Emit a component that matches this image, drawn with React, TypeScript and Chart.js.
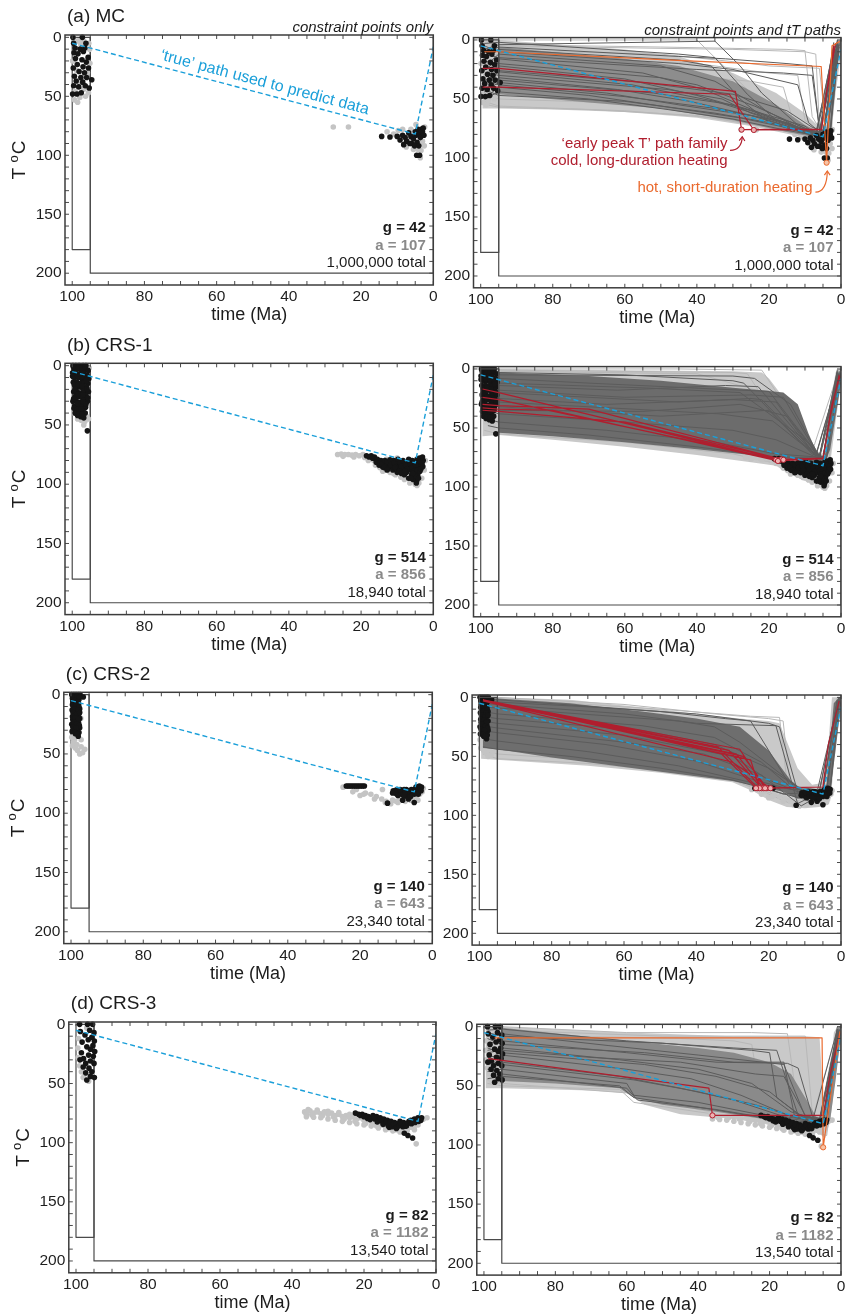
import React, { useEffect, useRef } from 'react';
import { Chart, registerables } from 'chart.js';

Chart.register(...registerables);

type Pt = [number, number];

const FONT = "'Liberation Sans', Helvetica, Arial, sans-serif";

// ---------- axes ----------
const X_TICKS = [100, 80, 60, 40, 20, 0];
const Y_TICKS = [0, 50, 100, 150, 200];
const X_MIN = 0, X_MAX = 102, Y_MIN = -2, Y_MAX = 210;
const X_MINOR = 5, Y_MINOR = 10;

// ---------- panel texts ----------
const PANEL_NAMES = ['(a) MC', '(b) CRS-1', '(c) CRS-2', '(d) CRS-3'];
const GOOD_COUNTS = [42, 514, 140, 82];
const ACC_COUNTS = [107, 856, 643, 1182];
const TOTALS = ['1,000,000', '18,940', '23,340', '13,540'];
const SUBTITLES = ['constraint points only', 'constraint points and tT paths'];

// ---------- constraints & true path ----------
const BOX_EARLY: Pt[] = [[100, 0], [100, 180], [95, 180], [95, 0], [100, 0]];
const BOX_LATE: Pt[] = [[95, 0], [95, 200], [0, 200], [0, 0]];
const TRUE_PATH: Pt[] = [[100, 5], [5, 82], [0, 8]];
const TRUE_LABEL_AT: Pt = [47.5, 47.5];

// ---------- (a) MC ----------
const A_GOOD_DOTS: Pt[] = [[99.8,0],[97.2,0],[99.6,5],[96.2,5],[99.2,9],[97.8,10],[96.5,9],[99.5,13],[98.4,14],[96.9,12],[95.6,17],[99.1,18],[97.3,19],[96.1,21],[98.6,23],[99.7,26],[97.0,25],[95.5,26],[98.1,29],[96.6,30],[99.4,33],[97.6,34],[96.0,34],[94.6,36],[98.9,37],[97.1,38],[99.6,41],[98.2,42],[96.4,41],[95.3,43],[97.5,47],[98.7,48],[99.9,48],
  [14.3,84],[12.0,84.5],[10.0,84],[9.2,87],[8.5,83],[7.8,85],[7.4,88],[6.8,81],[6.2,84],[5.9,90],[5.5,86],[5.0,80],[4.8,83],[4.5,89],[4.2,78],[3.9,82],[3.6,85],[3.3,78],[3.0,80],[2.8,77],[5.2,92],[4.0,92],[4.6,100],[3.8,100],[6.5,90],[8.2,91],[2.6,83]];
const A_ACC_DOTS: Pt[] = [[99.5,2],[98.3,3],[96.8,3],[95.4,5],[99.9,20],[98.8,28],[95.8,30],[99.2,46],[97.9,51],[96.3,50],[95.5,47],[98.5,55],[99.4,53],[96.8,44],[95.2,10],[97.6,6],[95.1,22],[98.0,38],
  [27.7,76],[23.5,76],[12.8,80],[11,82],[9.7,79],[8.5,78],[6.2,78],[5.5,95],[4.2,95],[3,88],[2.5,92],[3.6,102],[7.5,93],[4.8,74],[2.4,76],[6.8,88],[3.4,96]];
const A_ACC_BAND: Pt[] = [[99.5,2],[95,0],[60,8],[45,14],[30,28],[18,45],[10,62],[6,74],[4,72],[3,30],[2,5],[0.8,0],[0,0],[0,12],[1.5,45],[3,85],[5,92],[8,85],[14,80],[25,73],[40,66],[60,61],[80,59],[95,58],[99.5,58]];
const A_GOOD_BAND: Pt[] = [[95,6],[60,16],[45,22],[30,35],[18,55],[10,72],[6,78],[4,76],[2.5,40],[1,5],[0.4,4],[1.5,40],[3,78],[5,82],[8,82],[15,78],[30,68],[50,58],[70,53],[95,46]];
const A_GOOD_PATHS: Pt[][] = [
  [[99,8],[95,4],[35,1],[28,22],[22,45],[12,72],[6,80],[1,4]],
  [[99,14],[95,8],[45,17],[36,22],[28,50],[20,70],[8,78],[5,80],[1,6]],
  [[98,20],[95,12],[50,22],[35,35],[22,58],[12,74],[6,80],[2,10]],
  [[99,26],[95,16],[55,28],[38,42],[20,65],[9,77],[5,81],[1,2]],
  [[98,30],[95,22],[60,33],[40,47],[25,60],[10,76],[4,80],[0.5,6]],
  [[99,35],[95,27],[58,38],[35,52],[18,68],[8,79],[3,80],[1,3]],
  [[98,40],[95,32],[62,42],[42,52],[22,66],[10,78],[5,80],[1.5,8]],
  [[99,44],[95,36],[65,45],[45,55],[25,64],[12,76],[6,82],[1,5]],
  [[98,47],[95,40],[70,47],[50,56],[28,66],[14,75],[5,83],[0.5,2]],
  [[99,50],[95,44],[70,50],[48,59],[30,67],[16,76],[7,81],[1,4]],
  [[99,18],[95,20],[50,32],[40,38],[24,56],[10,75],[5,79],[1,1]],
  [[98,10],[95,6],[45,14],[32,16],[15,20],[8,22],[6,76],[3,80],[0.5,3]],
  [[99,22],[95,26],[55,36],[30,46],[15,60],[8,74],[4,78],[0.5,9]],
  [[98,36],[95,38],[60,48],[35,58],[15,70],[7,80],[2,7]],
  [[99,5],[95,10],[45,20],[30,25],[12,38],[9,70],[6,78],[2,2]],
  [[99,42],[95,47],[60,52],[35,62],[20,70],[9,80],[4,82],[1,10]],
  [[98,28],[95,30],[48,42],[33,50],[25,62],[11,76],[5,78],[0.5,4]],
  [[99,12],[95,15],[40,25],[16,28],[8,30],[6,75],[3,79],[1,0]],
  [[98,32],[95,34],[52,45],[30,55],[10,73],[6,82],[1.5,5]],
  [[99,3],[95,2],[45,12],[35,15],[26,46],[18,68],[7,80],[2,6]],
];
const A_ACC_PATHS: Pt[][] = [
  [[99,0],[95,0],[40,0],[26,42],[15,74],[5,80],[1,0]],
  [[98,6],[95,5],[30,8],[10,10],[7,12],[6,72],[3,82],[1,2]],
  [[99,52],[95,56],[60,60],[35,66],[15,76],[5,86],[2,30],[0.5,0]],
  [[98,55],[95,57],[70,59],[40,64],[20,74],[8,82],[4,96],[2,20],[0,0]],
  [[99,46],[95,50],[55,54],[30,62],[18,72],[6,84],[1,2]],
  [[98,2],[95,4],[50,6],[15,8],[10,9],[8,65],[5,80],[1,5]],
  [[99,15],[95,12],[40,20],[20,28],[12,30],[10,68],[5,80],[0.5,0]],
  [[98,24],[95,25],[45,30],[25,35],[16,40],[13,72],[6,80],[1.5,3]],
  [[99,38],[95,42],[60,50],[38,57],[24,70],[12,80],[4,85],[0.5,0]],
  [[98,8],[95,9],[50,12],[25,20],[20,22],[6,24],[4,80],[2,4]],
  [[99,30],[95,35],[55,45],[25,58],[11,77],[3,92],[1,10]],
];
const A_RED_PATHS: Pt[][] = [
  [[99.5,24],[95,24],[29.3,43.5],[27.6,76],[5.4,75.5],[3.8,40],[2,5]],
  [[99.5,40],[95,40],[31,46],[24.2,76.3],[5.4,76],[4,45],[1.5,3]],
];
const A_RED_ENDS: Pt[] = [[27.6,76],[24.2,76.3]];
const A_ORANGE_PATHS: Pt[][] = [[[99,10],[95,10],[44,17.5],[5.5,22.5],[4,104],[2.5,5],[0.3,1]]];
const A_ORANGE_ENDS: Pt[] = [[4,104]];

// ---------- (b) CRS-1 ----------
const B_GOOD_DOTS: Pt[] = [[99.8,0],[99.0,0],[98.1,0],[97.0,0],[96.2,0],[99.5,3],[98.6,3],[97.5,4],[96.5,3],[95.6,4],[99.9,6],[98.9,7],[97.9,7],[96.9,6],[95.9,8],[99.3,10],[98.3,10],[97.3,11],[96.3,10],[95.4,11],[99.7,14],[98.7,14],[97.7,15],[96.7,14],[95.7,15],[99.1,18],[98.1,18],[97.1,19],[96.1,18],[99.6,22],[98.6,22],[97.6,23],[96.6,21],[95.5,22],[99.2,26],[98.2,26],[97.2,27],[96.2,25],[99.8,30],[98.8,30],[97.8,31],[96.8,29],[95.8,30],[99.3,34],[98.3,35],[97.3,34],[96.3,35],[99.0,38],[98.0,39],[97.0,38],[96.4,40],[98.5,42],[97.6,43],[96.8,44],[95.8,55],
  [99.6,1],[98.4,1.5],[97.3,2],[96.5,1],[99.9,9],[98.5,8.5],[97.4,9],[96.1,12.5],[99.4,16],[98.3,16],[97.2,17],[95.9,19.5],[99.2,20],[98.4,24],[97.0,24.5],[95.7,27],[99.6,28],[98.5,32],[97.0,30.5],[96.2,32.5],[99.5,36],[98.7,37],[97.5,36.5],[99.2,40],[98.2,40.5],[97.3,41],
  [18.5,76],[17.2,76],[16.3,77],[16.0,79],[14.5,80],[13.8,82],[13.0,84],[12.2,82],[11.5,85],[11,80],[10.3,83],[9.8,86],[9.5,81],[9,84],[8.6,88],[8.2,83],[7.8,86],[7.4,90],[7.0,82],[6.6,85],[6.3,88],[6,92],[5.8,80],[5.5,84],[5.2,87],[5,90],[4.8,94],[4.6,97],[4.5,79],[4.2,82],[4,86],[3.8,78],[3.5,81],[3.2,84],[3,77],[2.8,80],[12.5,87],[11.2,88],[10,90],[8,92],[15,84],[14,85.5],[6.8,95],[5.6,96],[4.3,92],
  [17.8,77],[16.8,78],[15.5,79],[15.8,81.5],[14.8,82],[14.2,83],[13.4,80],[12.8,81],[12,79.5],[11.8,83.5],[10.8,82],[10.6,86],[9.8,79],[9.2,82],[8.8,85],[8.4,80],[7.6,84],[7.2,87],[6.8,79],[6.4,83],[5.9,86],[5.4,89],[5.2,93],[4.9,84],[4.4,88],[4.1,95],[3.7,89],[3.4,87],[3.1,82],[2.9,85],[13.6,86],[12.8,88],[9.4,89],[8.8,91],[7.9,89],[5.7,91],[4.7,99],[6.2,95]];
const B_ACC_DOTS: Pt[] = [[99.5,40],[98.5,45],[97.5,46],[96.5,47],[97,42],[96,43],[95.5,45],[99.7,2],[95.3,2],[96.8,50],
  [26.5,75],[25.5,74.5],[24.5,75],[23.5,75],[22.5,75.5],[21.5,75],[20.5,76],[19.5,75],[16.5,80],[15.5,83],[14.8,86],[13.5,88],[12,90],[10.5,92],[9,94],[7.5,95],[6,97],[5,100],[4,99],[3.2,95],[2.5,88],[2.2,80],[17.5,79],[13,79],[10,78],[25,76.5],[22,77],[19,77.5],[18,80],[16,84],[14,89],[11,91],[8,96],[6.5,99],[4.5,101]];
const B_ACC_BAND: Pt[] = [[99.5,0],[95,0],[60,1],[30,2],[22,3],[20,8],[12,40],[8,62],[6,73],[4.5,70],[3,30],[1.5,3],[0.5,0],[0,0],[0,12],[1.5,45],[3,80],[4,92],[6,98],[10,95],[15,88],[18,82],[25,79],[40,73],[60,66],[80,60],[95,56],[99.5,57]];
const B_GOOD_BAND: Pt[] = [[95,3],[70,6],[50,10],[30,16],[22,18],[16,20],[12,30],[9,55],[6.5,72],[5.5,74],[4.5,74],[3,45],[1.5,12],[0.3,2],[0,4],[0,12],[1.5,40],[3,68],[4.5,80],[6,80],[10,78],[16,76],[25,73],[40,68],[60,62],[80,57],[95,54]];
const B_GOOD_PATHS: Pt[][] = [
  [[99,2],[95,3],[60,5],[30,10],[27,12],[8,72],[5,76],[1,4]],
  [[99,5],[95,8],[70,12],[35,17],[20,19],[6,74],[0.5,3]],
  [[98,10],[95,12],[55,16],[28,20],[10,60],[5,76],[1,8]],
  [[99,15],[95,18],[60,24],[25,22],[16,24],[6,75],[1,2]],
  [[98,22],[95,25],[65,30],[30,26],[18,28],[7,74],[0.5,6]],
  [[99,28],[95,32],[50,40],[20,35],[12,60],[5,77],[1,3]],
  [[98,35],[95,38],[60,45],[30,52],[18,60],[6,76],[0.5,8]],
  [[99,42],[95,45],[65,52],[35,62],[18,72],[5,75],[1,5]],
  [[98,48],[95,50],[70,56],[40,66],[20,74],[5,76],[0.5,2]],
  [[99,8],[95,5],[30,6],[24,8],[14,30],[6,74],[1,6]],
  [[98,18],[95,20],[45,28],[25,25],[22,26],[8,70],[4,76],[0.5,4]],
  [[99,32],[95,35],[55,36],[28,30],[15,40],[6,75],[1,1]],
  [[99,12],[95,14],[62,18],[32,14],[23,15],[9,66],[5,75],[1,3]],
  [[98,26],[95,28],[58,34],[34,38],[19,44],[7,73],[0.5,5]],
];
const B_ACC_PATHS: Pt[][] = [
  [[99,0],[95,0],[45,0],[22,1],[20,10],[8,66],[5,74],[1,0]],
  [[98,3],[95,2],[40,4],[21,20],[8,70],[0.5,0]],
  [[99,52],[95,55],[60,62],[30,72],[18,80],[8,90],[4,96],[2,40],[0.5,2]],
  [[99,1],[95,1],[30,3],[26,4],[16,50],[6,73],[1,1]],
];
const B_RED_PATHS: Pt[][] = [
  [[99.5,17],[95,20],[18,77],[5,76],[3,40],[0.5,5]],
  [[99.5,24],[95,26],[17,77],[5,76],[3,40],[0.5,5]],
  [[99.5,30],[95,31],[70,34],[16.5,76.5],[5,75.5],[2.5,30],[0.3,6]],
  [[99.5,33],[95,34],[80,35],[17.5,78],[5,76],[3,40],[0.5,5]],
  [[99.5,35],[95,36],[60,45],[16,77],[5,76],[3,40],[0.5,5]],
];
const B_RED_ENDS: Pt[] = [[18,77],[17,77],[16.5,76.5],[17.5,78],[16,77]];
const B_ORANGE_PATHS: Pt[][] = [];
const B_ORANGE_ENDS: Pt[] = [];

// ---------- (c) CRS-2 ----------
const C_GOOD_DOTS: Pt[] = [[99.8,0],[99.2,0],[98.6,0],[98.0,0],[97.5,0],[99.6,3],[98.4,3],[97.8,4],[99.5,6],[98.8,7],[97.9,8],[99.3,10],[98.2,11],[97.6,12],[99.7,13],[98.6,14],[97.8,16],[99.1,17],[98.3,18],[97.6,20],[99.5,21],[98.7,22],[97.9,24],[99.8,25],[98.9,26],[98.1,27],[97.6,28],[99.2,29],[98.4,30],[97.8,32],[98.8,33],[98.0,35],[96.6,2],
  [99.4,2],[98.3,1.5],[97.7,2],[99.0,5],[98.2,6],[99.6,8.5],[98.5,9],[97.8,10.5],[99.0,12],[98.1,13],[99.4,15],[98.5,16.5],[97.6,15],[99.6,18.5],[98.8,19.5],[98.0,21],[99.2,23],[98.4,24.5],[97.7,26],[99.5,27],[98.6,28],[99.7,31],[99.0,31.5],[98.3,33],
  [23.8,77],[23.3,77],[22.8,77],[22.3,77],[21.8,77],[21.3,77],[20.8,77],[20.3,77],[19.8,77],[19.3,77],[18.8,77],
  [10.8,81],[10.2,83],[9.6,80],[9,82],[8.5,84],[8,81],[7.6,83],[7.2,80],[6.8,82],[6.3,84],[6,81],[5.6,83],[5.2,80],[4.8,82],[4.5,78],[4.2,81],[3.9,84],[3.6,77],[3.3,80],[3,78],[12.4,91.5],[8.2,89],[6.6,88],[5,91],[9.5,85],[7,86],
  [10.5,82],[9.8,84],[9.3,81],[8.7,83],[8.2,82],[7.8,80],[7.4,82],[7,84],[6.5,81],[6.1,83],[5.8,80],[5.4,82],[5,84],[4.6,80],[4.3,83],[4,79],[3.7,82],[3.4,79],[3.1,81],[10,80.5],[11,83],[8.9,80],[7.9,85],[6,86]];
const C_ACC_DOTS: Pt[] = [[99.8,36],[99.3,40],[98.8,45],[98.2,47],[97.6,50],[96.8,49],[96.2,46],[97.2,38],[99.6,43],[98.6,30],[97.3,20],[99,38],[98.4,42],[97.2,44],
  [24.7,78],[22,82],[20,85],[18.5,83],[17,84],[15.5,86],[14,88],[12.8,90],[11.5,92],[10,90],[9,88],[8,87],[6.5,86],[5.5,88],[4.5,86],[3.5,84],[2.8,82],[2.5,79],[4,89],[13.8,80],[21,80],[19,84],[16,88],[13,91],[11,89],[9.5,91],[7.5,90],[6,89]];
const C_ACC_BAND: Pt[] = [[99.5,0],[95,0],[75,2],[50,10],[40,14],[28,18],[20,20],[17,22],[12,60],[8,74],[6,73],[4,60],[3,20],[2.5,0],[0,0],[0,10],[1.5,40],[2.5,75],[3,88],[6,93],[10,94],[15,93],[20,87],[24,80],[30,72],[50,64],[70,58],[90,54],[99.5,52]];
const C_GOOD_BAND: Pt[] = [[99,0],[95,1],[75,5],[55,12],[40,18],[28,25],[20,45],[14,70],[10,80],[6,78],[4,74],[3,40],[2,5],[0.5,0],[0,5],[1.5,45],[3,80],[8,84],[12,86],[16,80],[22,76],[30,71],[45,65],[60,59],[80,51],[95,44],[99,43]];
const C_GOOD_PATHS: Pt[][] = [
  [[99,0],[95,2],[50,12],[32,18],[25,20],[14,75],[10,80],[5,78],[1,2]],
  [[99,5],[95,6],[60,14],[40,22],[18,24],[12,90],[8,84],[4,80],[0.5,0]],
  [[99,12],[95,14],[55,24],[35,34],[22,55],[14,76],[6,80],[1,3]],
  [[99,20],[95,22],[60,32],[30,50],[20,70],[12,80],[5,80],[1,5]],
  [[99,28],[95,30],[65,40],[40,54],[24,70],[14,78],[4,79],[0.5,2]],
  [[99,35],[95,37],[70,46],[45,58],[25,72],[16,82],[6,80],[1,4]],
  [[99,42],[95,44],[75,50],[50,60],[30,70],[18,80],[8,88],[4,78],[0.5,0]],
  [[99,8],[95,9],[45,20],[35,25],[28,38],[12,76],[5,79],[1,2]],
  [[99,16],[95,18],[55,28],[35,40],[20,60],[10,80],[3,80],[0.5,3]],
  [[99,24],[95,26],[60,38],[38,48],[22,66],[11,92],[7,85],[2,20],[0.5,0]],
  [[99,3],[95,4],[70,8],[40,14],[20,22],[17,25],[12,80],[8,82],[3,78],[0.5,0]],
];
const C_ACC_PATHS: Pt[][] = [
  [[99,0],[95,0],[60,6],[35,14],[20,18],[16,20],[14,78],[9,82],[3,76],[0.5,0]],
  [[99,48],[95,52],[70,56],[45,63],[30,70],[20,82],[14,90],[8,86],[3,75],[0.5,0]],
  [[99,2],[95,1],[50,10],[25,16],[17,17],[15,70],[10,84],[4,79],[1,0]],
  [[99,45],[95,48],[60,55],[40,62],[25,75],[15,86],[6,90],[3,70],[1,0]],
];
const C_RED_PATHS: Pt[][] = [
  [[99,2],[34,42],[23,77],[5,76],[3.5,40],[0.5,3]],
  [[99,2],[31,45],[22,77],[5,76],[3.5,40],[0.5,3]],
  [[99,2],[29,48],[21.5,77],[5,76],[3.5,40],[0.5,3]],
  [[99,3],[27,50],[20.5,77],[5,76],[3.5,40],[0.5,3]],
  [[99,2],[25,53],[22.5,77],[5,76],[3.5,40],[0.5,3]],
  [[99,3],[30,55],[19.5,77],[5,76],[3.5,40],[0.5,3]],
  [[99,2],[33,48],[23.5,77],[5,76],[3.5,40],[0.5,3]],
  [[99,2],[28,44],[21,77],[5,76],[3.5,40],[0.5,3]],
];
const C_RED_ENDS: Pt[] = [[23,77],[22,77],[21.5,77],[20.5,77],[22.5,77],[19.5,77],[23.5,77],[21,77]];
const C_ORANGE_PATHS: Pt[][] = [];
const C_ORANGE_ENDS: Pt[] = [];

// ---------- (d) CRS-3 ----------
const D_GOOD_DOTS: Pt[] = [[99.0,0],[96.8,0],[95.4,0],[98.8,6],[96.2,5],[95.0,7],[97.5,9],[95.6,11],[96.6,13],[94.9,14],[98.3,15],[95.3,18],[97.0,19],[96.0,21],[94.8,23],[98.5,24],[96.5,26],[95.2,27],[97.9,29],[98.9,30],[96.0,31],[97.3,33],[95.0,33],[98.0,36],[96.4,37],[95.6,40],[97.3,41],[96.0,44],[97.0,47],[94.9,45],
  [22.4,75],[21.5,76],[20.5,76],[19.6,77],[18.8,78],[18,79],[17.5,77],[17,80],[16.5,78],[16,81],[15.5,79],[15,82],[14.5,80],[14,83],[13.5,81],[13,84],[12.5,82],[12,85],[11.5,83],[11,86],[10.5,84],[10,82],[9.5,85],[9,83],[8.5,86],[8,84],[7.5,82],[7,81],[6.5,82],[6,80],[5.5,81],[5,79],[4.5,80],[4,79],[13,87],[11,88],[8.8,92],[7.8,94],[6.5,96],
  [21,77],[20,78],[19,79.5],[18.3,80.5],[17.2,79],[16.3,82.5],[15.2,80.5],[14.7,84.5],[13.8,82],[13.3,85.5],[12.8,83],[12.2,86.5],[11.8,84],[11.2,84.5],[10.8,87],[10.2,85.5],[9.8,83.5],[9.2,86.5],[8.7,84.5],[8.2,86],[7.8,83.5],[7.2,83],[6.8,84],[6.2,82.5],[5.8,83],[5.2,81],[4.8,82],[4.2,81]];
const D_ACC_DOTS: Pt[] = [[99.5,20],[99,35],[98.5,40],[97.5,42],[98,45],[96.5,48],[95.5,42],[97,3],[99.3,12],[99.4,28],
  [36.5,74],[35,73],[34,75],[33,74],[32,75.5],[31,74],[30,76],[29,75],[28,77],[27,76],[26,78],[25,77],[24,79],[23,78],[22,80],[21,79],[20,81],[19,80],[18,82],[17,83],[16,84],[15,85],[14,86],[13,88],[12,88],[11,89],[10,89],[9,88],[8,88],[7,87],[6,86],[5,85],[4.5,82],[3.5,80],[2.5,79],[5.5,101],[36,76],[34.5,76.5],[31.5,77],[28.5,78],[25.5,80],[22.5,82],[19.5,83.5],[16.5,86],
  [36,78],[34,78.5],[32,79],[30,80],[28,81],[26,82],[24,83],[22,84],[20,85],[18,86],[16,87.5],[14,89],[12,90],[10,91],[8,90],[6,89],[35.5,72],[33,72.5],[30,73.5],[27,74.5],[24,76],[21,77],[18,79],[15,81],[12,84]];
const D_ACC_BAND: Pt[] = [[99.5,0],[95,0],[60,5],[30,8],[10,8],[6,9],[5,60],[4,75],[3,40],[2,5],[1,0],[0,0],[0,10],[1.5,40],[3,80],[4.5,95],[6,90],[10,88],[18,84],[30,78],[45,74],[55,66],[60,56],[70,54],[95,52],[99.5,52]];
const D_GOOD_BAND: Pt[] = [[95,1],[60,12],[40,18],[30,22],[20,30],[14,40],[10,60],[7,76],[5,78],[3,40],[1.5,8],[0.3,2],[0,6],[1.5,45],[3,78],[5,82],[10,82],[20,79],[35,72],[50,66],[58,60],[62,52],[80,48],[95,46]];
const D_GOOD_PATHS: Pt[][] = [
  [[99,3],[95,2],[60,12],[30,18],[18,20],[12,75],[6,78],[1,4]],
  [[99,8],[95,6],[65,16],[40,24],[16,32],[10,76],[5,80],[0.5,6]],
  [[99,14],[95,12],[60,22],[35,30],[15,31],[12,35],[8,76],[4,79],[1,2]],
  [[99,20],[95,18],[62,28],[40,36],[25,48],[14,72],[6,79],[1,5]],
  [[99,26],[95,24],[60,36],[42,44],[28,58],[14,76],[5,80],[0.5,3]],
  [[99,32],[95,30],[62,42],[45,52],[30,62],[16,76],[6,80],[1,6]],
  [[99,38],[95,36],[60,48],[58,58],[40,64],[20,76],[8,80],[1,2]],
  [[99,44],[95,42],[62,50],[58,60],[40,68],[22,77],[6,82],[0.5,4]],
  [[99,10],[95,15],[55,22],[30,30],[16,30],[13,76],[5,78],[1,0]],
  [[99,18],[95,22],[55,32],[35,42],[20,55],[12,74],[5,80],[1,8]],
  [[99,28],[95,32],[58,45],[40,55],[24,66],[10,79],[4,80],[0.5,2]],
  [[99,5],[95,8],[50,14],[25,20],[20,22],[18,60],[10,78],[5,79],[1,3]],
  [[99,36],[95,40],[60,52],[57,62],[35,70],[15,80],[6,80],[1,5]],
  [[99,22],[95,20],[70,26],[45,30],[24,40],[16,42],[10,75],[4,80],[0.5,0]],
];
const D_ACC_PATHS: Pt[][] = [
  [[99,0],[95,0],[60,5],[25,5],[15,6],[12,70],[6,78],[1,0]],
  [[99,2],[95,3],[50,8],[20,8],[10,8],[8,74],[5,78],[0.5,0]],
  [[99,48],[95,50],[62,53],[58,64],[40,72],[20,80],[8,88],[4,92],[2,30],[0.5,0]],
  [[99,6],[95,7],[45,10],[30,12],[25,15],[22,70],[8,78],[1,2]],
  [[99,45],[95,48],[60,56],[40,70],[25,78],[12,86],[5,90],[1,3]],
];
const D_RED_PATHS: Pt[][] = [[[98.8,27],[96,28],[37,52],[36,75],[5,75],[3,40],[0.3,5]]];
const D_RED_ENDS: Pt[] = [[36,75]];
const D_ORANGE_PATHS: Pt[][] = [[[97,9.5],[95,9.5],[5.3,9.5],[5,102],[0.3,4]]];
const D_ORANGE_ENDS: Pt[] = [[5,102]];

// ---------- (a) annotations ----------
const RED_NOTES: [string, number, number][] = [['‘early peak T’ path family', 31.5, 88], ['cold, long-duration heating', 31.5, 102.8]];
const ORANGE_NOTES: [string, number, number][] = [['hot, short-duration heating', 7.9, 125.7]];
const RED_ARROW: Pt[] = [[30.8, 93.5], [27.6, 93.5], [27.4, 82]];
const ORANGE_ARROW: Pt[] = [[7.1, 129], [3.9, 128.6], [3.8, 111]];

const ROWS = [
  { good: A_GOOD_DOTS, acc: A_ACC_DOTS, accBand: A_ACC_BAND, goodBand: A_GOOD_BAND, goodPaths: A_GOOD_PATHS, accPaths: A_ACC_PATHS, red: A_RED_PATHS, redEnds: A_RED_ENDS, orange: A_ORANGE_PATHS, orangeEnds: A_ORANGE_ENDS },
  { good: B_GOOD_DOTS, acc: B_ACC_DOTS, accBand: B_ACC_BAND, goodBand: B_GOOD_BAND, goodPaths: B_GOOD_PATHS, accPaths: B_ACC_PATHS, red: B_RED_PATHS, redEnds: B_RED_ENDS, orange: B_ORANGE_PATHS, orangeEnds: B_ORANGE_ENDS },
  { good: C_GOOD_DOTS, acc: C_ACC_DOTS, accBand: C_ACC_BAND, goodBand: C_GOOD_BAND, goodPaths: C_GOOD_PATHS, accPaths: C_ACC_PATHS, red: C_RED_PATHS, redEnds: C_RED_ENDS, orange: C_ORANGE_PATHS, orangeEnds: C_ORANGE_ENDS },
  { good: D_GOOD_DOTS, acc: D_ACC_DOTS, accBand: D_ACC_BAND, goodBand: D_GOOD_BAND, goodPaths: D_GOOD_PATHS, accPaths: D_ACC_PATHS, red: D_RED_PATHS, redEnds: D_RED_ENDS, orange: D_ORANGE_PATHS, orangeEnds: D_ORANGE_ENDS },
];

// ---------- layout (page pixels) ----------
const GEOM = [
  [{ cx: 0, cy: 0, cw: 440, ch: 330, L: 65, T: 35, R: 433.3, B: 285 }, { cx: 440, cy: 0, cw: 406, ch: 330, L: 473.5, T: 37.6, R: 842.7, B: 287.8 }],
  [{ cx: 0, cy: 330, cw: 440, ch: 330, L: 65, T: 363.3, R: 433.3, B: 614.6 }, { cx: 440, cy: 330, cw: 406, ch: 330, L: 473.5, T: 366.6, R: 842.7, B: 616.8 }],
  [{ cx: 0, cy: 660, cw: 440, ch: 330, L: 63.8, T: 692.3, R: 432.3, B: 943.6 }, { cx: 440, cy: 660, cw: 406, ch: 330, L: 472.1, T: 695, R: 841.7, B: 945.1 }],
  [{ cx: 0, cy: 990, cw: 440, ch: 326, L: 68.8, T: 1022, R: 436.7, B: 1272.8 }, { cx: 440, cy: 990, cw: 406, ch: 326, L: 476.8, T: 1024.3, R: 845, B: 1275.1 }],
];
const GOOD_BAND_COLORS = ['#8d8d8d', '#6c6c6c', '#6e6e6e', '#8a8a8a'];

const COL = {
  goodPath: '#5c5c5c', accPath: '#b8b8b8', accBand: '#c9c9c9',
  red: '#b01e2e', orange: '#ea6a2e', blue: '#1a9fd9',
  black: '#151515', gray: '#c4c4c4', box: '#4a4a4a', text: '#1c1c1c',
};
const DOT_R = 2.8;

const xy = (pts: Pt[]) => pts.map(([x, y]) => ({ x, y }));
const joined = (paths: Pt[][]) => {
  const out: any[] = [];
  paths.forEach((p) => {
    p.forEach(([x, y]) => out.push({ x, y }));
    out.push({ x: p[p.length - 1][0], y: null });
  });
  return out;
};

function Panel({ row, side }: { row: number; side: number }) {
  const ref = useRef<HTMLCanvasElement>(null);
  const g = GEOM[row][side];

  useEffect(() => {
    const d = ROWS[row];
    const ds: any[] = [];
    const line = (data: any[], color: string, width: number, dash: number[] = []) =>
      ds.push({ type: 'line', data, borderColor: color, borderWidth: width, borderDash: dash, pointRadius: 0, fill: false, tension: 0, spanGaps: false, borderJoinStyle: 'round' });
    const poly = (pts: Pt[], color: string) =>
      ds.push({ type: 'line', data: xy([...pts, pts[0]]), borderWidth: 0, borderColor: 'rgba(0,0,0,0)', backgroundColor: color, fill: 'shape', pointRadius: 0, tension: 0 });
    const dots = (pts: Pt[], color: string, r: number, border?: string) =>
      ds.push({ type: 'scatter', data: xy(pts), pointRadius: r, backgroundColor: color, borderColor: border || color, borderWidth: border ? 1 : 0, clip: 6 });

    if (side === 1) {
      poly(d.accBand, COL.accBand);
      line(joined(d.accPaths), COL.accPath, 1);
      dots(d.acc, COL.gray, DOT_R);
      poly(d.goodBand, GOOD_BAND_COLORS[row]);
      line(joined(d.goodPaths), COL.goodPath, 1);
      dots(d.good, COL.black, DOT_R);
      line(xy(BOX_EARLY), COL.box, 1.2);
      line(xy(BOX_LATE), COL.box, 1.2);
      if (d.red.length) line(joined(d.red), COL.red, 1.2);
      if (d.orange.length) line(joined(d.orange), COL.orange, 1.2);
      line(xy(TRUE_PATH), COL.blue, 1.4, [5, 3]);
      if (d.redEnds.length) dots(d.redEnds, '#eeb2b2', 2.6, COL.red);
      if (d.orangeEnds.length) dots(d.orangeEnds, '#f6c3a6', 2.6, COL.orange);
    } else {
      line(xy(BOX_EARLY), COL.box, 1.2);
      line(xy(BOX_LATE), COL.box, 1.2);
      dots(d.acc, COL.gray, DOT_R);
      dots(d.good, COL.black, DOT_R);
      line(xy(TRUE_PATH), COL.blue, 1.4, [5, 3]);
    }
    ds.forEach((x, i) => { x.order = 1000 - i; });

    const deco = {
      id: 'deco',
      afterDraw(chart: any) {
        const ctx = chart.ctx;
        const ca = chart.chartArea;
        const xs = chart.scales.x;
        const ys = chart.scales.y;
        ctx.save();
        ctx.strokeStyle = '#4a4a4a';
        ctx.lineWidth = 1;
        ctx.beginPath();
        for (let v = 0; v <= 100; v += X_MINOR) {
          const p = xs.getPixelForValue(v);
          ctx.moveTo(p, ca.top); ctx.lineTo(p, ca.top + 4);
          ctx.moveTo(p, ca.bottom); ctx.lineTo(p, ca.bottom - 4);
        }
        for (let v = 0; v <= 200; v += Y_MINOR) {
          const p = ys.getPixelForValue(v);
          ctx.moveTo(ca.left, p); ctx.lineTo(ca.left + 4, p);
          ctx.moveTo(ca.right, p); ctx.lineTo(ca.right - 4, p);
        }
        ctx.stroke();
        ctx.lineWidth = 1.5;
        ctx.strokeStyle = '#3c3c3c';
        ctx.strokeRect(ca.left, ca.top, ca.right - ca.left, ca.bottom - ca.top);

        ctx.textAlign = 'right';
        ctx.textBaseline = 'middle';
        const rx = ca.right - 7.5;
        ctx.font = `bold 15px ${FONT}`;
        ctx.fillStyle = COL.text;
        ctx.fillText(`g = ${GOOD_COUNTS[row]}`, rx, ca.bottom - 57);
        ctx.fillStyle = '#8a8a8a';
        ctx.fillText(`a = ${ACC_COUNTS[row]}`, rx, ca.bottom - 39.5);
        ctx.font = `15px ${FONT}`;
        ctx.fillStyle = COL.text;
        ctx.fillText(`${TOTALS[row]} total`, rx, ca.bottom - 22);

        ctx.textAlign = 'center';
        ctx.font = `18px ${FONT}`;
        ctx.fillText('time (Ma)', (ca.left + ca.right) / 2, ca.bottom + 30);

        if (side === 0) {
          ctx.textAlign = 'left';
          ctx.font = `19px ${FONT}`;
          ctx.fillText(PANEL_NAMES[row], ca.left + 2, ca.top - 18);
          ctx.save();
          ctx.translate(ca.left - 45, (ca.top + ca.bottom) / 2);
          ctx.rotate(-Math.PI / 2);
          ctx.font = `19px ${FONT}`;
          const w1 = ctx.measureText('T ').width;
          const wC = ctx.measureText('C').width;
          ctx.font = `13px ${FONT}`;
          const wo = ctx.measureText('o').width + 1;
          const tot = w1 + wo + wC;
          let x0 = -tot / 2;
          ctx.textAlign = 'left';
          ctx.font = `19px ${FONT}`;
          ctx.fillText('T ', x0, 0);
          x0 += w1;
          ctx.font = `13px ${FONT}`;
          ctx.fillText('o', x0, -6);
          x0 += wo;
          ctx.font = `19px ${FONT}`;
          ctx.fillText('C', x0, 0);
          ctx.restore();
        }

        if (row === 0) {
          ctx.textAlign = 'right';
          ctx.font = `italic 15px ${FONT}`;
          ctx.fillStyle = COL.text;
          ctx.fillText(SUBTITLES[side], ca.right, ca.top - 7);
          if (side === 0) {
            const px = (p: Pt) => [xs.getPixelForValue(p[0]), ys.getPixelForValue(p[1])];
            const [x1, y1] = px(TRUE_PATH[0]);
            const [x2, y2] = px(TRUE_PATH[1]);
            const ang = Math.atan2(y2 - y1, x2 - x1);
            const [lx, ly] = px(TRUE_LABEL_AT);
            ctx.save();
            ctx.translate(lx + 11 * Math.sin(ang), ly - 11 * Math.cos(ang));
            ctx.rotate(ang);
            ctx.textAlign = 'center';
            ctx.font = `16px ${FONT}`;
            ctx.fillStyle = COL.blue;
            ctx.fillText('‘true’ path used to predict data', 0, 0);
            ctx.restore();
          } else {
            ctx.font = `15px ${FONT}`;
            ctx.fillStyle = COL.red;
            RED_NOTES.forEach(([s, t, v]) => ctx.fillText(s, xs.getPixelForValue(t), ys.getPixelForValue(v)));
            ctx.fillStyle = COL.orange;
            ORANGE_NOTES.forEach(([s, t, v]) => ctx.fillText(s, xs.getPixelForValue(t), ys.getPixelForValue(v)));
            const arrow = (pts: Pt[], color: string) => {
              const P = pts.map((p) => [xs.getPixelForValue(p[0]), ys.getPixelForValue(p[1])]);
              ctx.strokeStyle = color;
              ctx.lineWidth = 1.2;
              ctx.beginPath();
              ctx.moveTo(P[0][0], P[0][1]);
              ctx.quadraticCurveTo(P[1][0], P[1][1], P[2][0], P[2][1]);
              ctx.stroke();
              const a = Math.atan2(P[2][1] - P[1][1], P[2][0] - P[1][0]);
              ctx.beginPath();
              ctx.moveTo(P[2][0] - 5 * Math.cos(a - 0.6), P[2][1] - 5 * Math.sin(a - 0.6));
              ctx.lineTo(P[2][0], P[2][1]);
              ctx.lineTo(P[2][0] - 5 * Math.cos(a + 0.6), P[2][1] - 5 * Math.sin(a + 0.6));
              ctx.stroke();
            };
            arrow(RED_ARROW, COL.red);
            arrow(ORANGE_ARROW, COL.orange);
          }
        }
        ctx.restore();
      },
    };

    const tickFont = { family: FONT, size: 15.5 };
    const chart = new Chart(ref.current as HTMLCanvasElement, {
      type: 'line',
      data: { datasets: ds },
      options: {
        animation: false,
        responsive: false,
        devicePixelRatio: 1,
        events: [],
        layout: { padding: { left: 0, top: g.T - g.cy, right: g.cx + g.cw - g.R, bottom: 0 } },
        plugins: { legend: { display: false }, tooltip: { enabled: false } },
        scales: {
          x: {
            type: 'linear', reverse: true, min: X_MIN, max: X_MAX,
            grid: { display: false, drawTicks: false }, border: { display: false },
            ticks: { font: tickFont, color: '#1e1e1e', padding: 2.5, maxRotation: 0, autoSkip: false },
            afterBuildTicks: (s: any) => { s.ticks = X_TICKS.map((v) => ({ value: v })); },
            afterFit: (s: any) => { s.height = g.cy + g.ch - g.B; s.paddingLeft = 0; s.paddingRight = 0; },
          },
          y: {
            type: 'linear', reverse: true, min: Y_MIN, max: Y_MAX,
            grid: { display: false, drawTicks: false }, border: { display: false },
            ticks: { font: tickFont, color: '#1e1e1e', padding: 3.5, autoSkip: false },
            afterBuildTicks: (s: any) => { s.ticks = Y_TICKS.map((v) => ({ value: v })); },
            afterFit: (s: any) => { s.width = g.L - g.cx; s.paddingTop = 0; s.paddingBottom = 0; },
          },
        },
      } as any,
      plugins: [deco],
    });
    return () => chart.destroy();
  }, [row, side]);

  return (
    <canvas
      ref={ref}
      width={g.cw}
      height={g.ch}
      style={{ position: 'absolute', left: g.cx, top: g.cy, width: g.cw, height: g.ch }}
    />
  );
}

export default function App() {
  return (
    <div style={{ position: 'absolute', left: 0, top: 0, width: 846, height: 1316, background: '#fff', overflow: 'hidden' }}>
      {[0, 1, 2, 3].map((r) => [0, 1].map((s) => <Panel key={`${r}-${s}`} row={r} side={s} />))}
    </div>
  );
}
